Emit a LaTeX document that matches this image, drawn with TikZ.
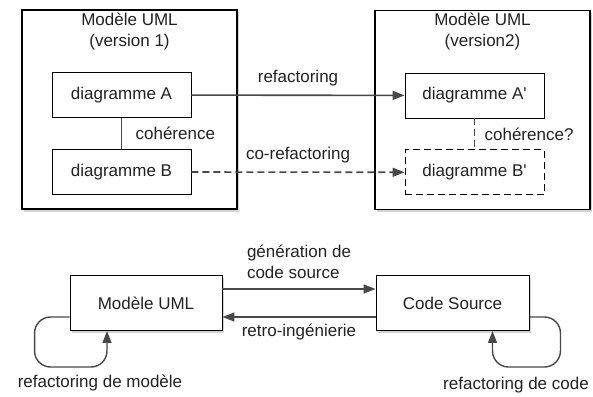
\documentclass[tikz,border=0pt]{standalone}
\usepackage{fontspec}
\setmainfont{Liberation Sans}
\usepackage{xcolor}
\usetikzlibrary{arrows.meta}
\usetikzlibrary{positioning, shadows}

\definecolor{trait}{HTML}{484848}
\definecolor{texte}{HTML}{222222}

\tikzset{
    modele/.style={draw, fill=white, line width=1.1pt, minimum width=215pt, minimum height=199pt,
        drop shadow={shadow xshift=1.5pt, shadow yshift=-2.5pt, opacity=0.35}},
    boite/.style={draw, fill=white, line width=0.9pt, inner sep=0pt},
    diag/.style={boite, minimum width=139pt, minimum height=45pt},
    lien/.style={draw=trait, line width=1.6pt},
    fleche/.style={lien, -{Triangle[length=12pt, width=9pt]}},
    pointille/.style={dash pattern=on 7pt off 4pt},
}

\begin{document}
\begin{tikzpicture}[x=1pt, y=-1pt, font=\fontsize{17}{21}\selectfont, text=texte]
    \useasboundingbox (0,0) rectangle (593,396);

    \node[modele] (m1) at (129.5,109.5) {};
    \node[modele] (m2) at (482.5,110) {};
    \node[align=center, anchor=north, inner sep=3pt] (t1) at (m1.north) {Modèle UML\\(version 1)};
    \node[align=center, anchor=north, inner sep=3pt] (t2) at (m2.north) {Modèle UML\\(version2)};

    \node[diag] (dA) at (121.5,95) {diagramme A};
    \node[diag, below=31pt of dA] (dB) {diagramme B};
    \node[diag] (dA2) at (474.5,95.5) {diagramme A\textquotesingle};
    \node[diag, pointille, below=31pt of dA2] (dB2) {diagramme B\textquotesingle};

    \draw[lien] (dA) -- (dB) node[midway, anchor=west, xshift=10pt] {cohérence};
    \draw[lien, pointille] (dA2) -- (dB2) node[midway, anchor=west, xshift=6pt] {cohérence?};
    \draw[fleche] (dA) -- (dA2) node[midway, above=5pt] {refactoring};
    \draw[fleche, pointille] (dB) -- (dB2) node[midway, above=5pt] {co-refactoring};

    \node[boite, minimum width=152pt, minimum height=55pt,
        drop shadow={shadow xshift=1.5pt, shadow yshift=-2.5pt, opacity=0.35}] (uml) at (146,303) {Modèle UML};
    \node[boite, minimum width=153pt, minimum height=55pt,
        drop shadow={shadow xshift=1.5pt, shadow yshift=-2.5pt, opacity=0.35}] (code) at (452.5,303) {Code Source};

    \draw[fleche, line width=1.4pt] ([yshift=14pt]uml.east) -- ([yshift=14pt]code.west)
        node[midway, above=6pt, align=left] {génération de\\code source};
    \draw[fleche, line width=1.4pt] ([yshift=-14pt]code.west) -- ([yshift=-14pt]uml.east)
        node[midway, below=3pt] {retro-ingénierie};

    \draw[fleche, line width=1.4pt, rounded corners=16pt] ([yshift=-14pt]uml.west) -| ++(-35,50)
        -| ([xshift=-39pt]uml.south);
    \draw[fleche, line width=1.4pt, rounded corners=16pt] ([yshift=-14pt]code.east) -| ++(31,50)
        -| ([xshift=40pt]code.south);

    \node (refm) at (100,383) {refactoring de modèle};
    \node (refc) at (516,385) {refactoring de code};
\end{tikzpicture}
\end{document}
